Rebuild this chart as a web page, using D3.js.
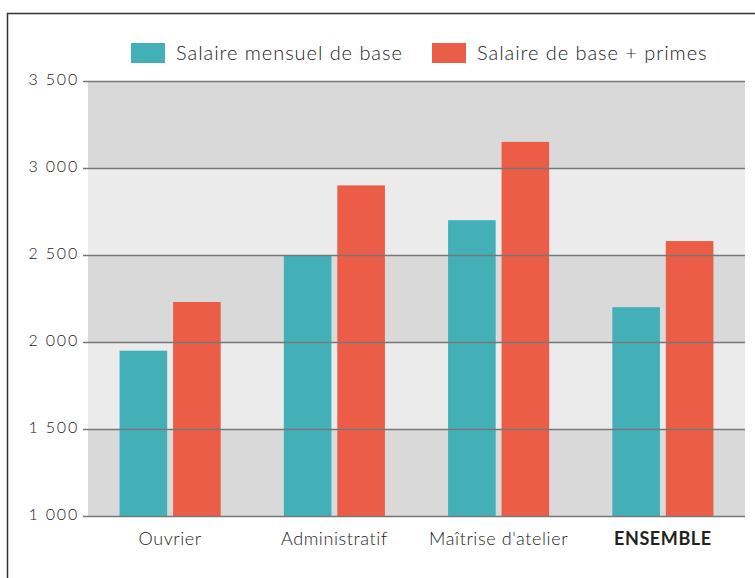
<!DOCTYPE html>
<html lang="fr">
<head>
<meta charset="UTF-8">
<title>Salaires</title>
<script src="https://d3js.org/d3.v7.min.js"></script>
<style>
    body { margin: 0; background: #fff; }
    svg { display: block; font-family: Lato, "Open Sans", sans-serif; font-weight: 300; }
    .tick text { fill: #222; }
</style>
</head>
<body>
<svg id="chart" width="755" height="578"></svg>
<script>
    const categories = ["Ouvrier", "Administratif", "Maîtrise d'atelier", "ENSEMBLE"]
    const seriesNames = ["Salaire mensuel de base", "Salaire de base + primes"]
    const baseSalary = [1950, 2500, 2700, 2200]
    const bonusSalary = [2230, 2900, 3150, 2580]
    const yTicks = [1000, 1500, 2000, 2500, 3000, 3500]
    const colors = ["#43b0b8", "#ec5d48"]

    const svg = d3.select("#chart")
    const plotLeft = 88, plotRight = 745, plotTop = 81, plotBottom = 516

    // frame
    svg.append("path")
        .attr("d", `M7.5,578 V13.5 H755`)
        .attr("fill", "none").attr("stroke", "#333").attr("stroke-width", 1.5)

    const x0 = d3.scaleBand().domain(categories).range([plotLeft, plotRight]).paddingInner(0).paddingOuter(0)
    const x1 = d3.scaleBand().domain(seriesNames).range([0, x0.bandwidth()]).paddingInner(0.11).paddingOuter(0.59)
    const y = d3.scaleLinear().domain([1000, 3500]).range([plotBottom, plotTop])

    // background bands
    svg.append("g").selectAll("rect")
        .data(yTicks.slice(0, -1))
        .enter().append("rect")
        .attr("x", plotLeft).attr("width", plotRight - plotLeft)
        .attr("y", d => y(d + 500)).attr("height", d => y(d) - y(d + 500))
        .attr("fill", (d, i) => i % 2 === 0 ? "#d9d9d9" : "#ebebeb")

    // bars
    const rows = categories.map((c, i) => ({cat: c, vals: [baseSalary[i], bonusSalary[i]]}))
    svg.append("g").selectAll("g")
        .data(rows)
        .enter().append("g")
        .attr("transform", d => `translate(${x0(d.cat)},0)`)
        .selectAll("rect")
        .data(d => d.vals.map((v, j) => ({s: seriesNames[j], v: v, c: colors[j]})))
        .enter().append("rect")
        .attr("x", d => x1(d.s)).attr("width", x1.bandwidth())
        .attr("y", d => y(d.v)).attr("height", d => plotBottom - y(d.v))
        .attr("fill", d => d.c)

    // gridlines + y axis
    const yAxis = d3.axisLeft(y).tickValues(yTicks).tickSize(-(plotRight - plotLeft))
        .tickFormat(d => d3.format(",")(d).replace(",", " "))
    const gy = svg.append("g").attr("transform", `translate(${plotLeft},0)`).call(yAxis)
        .attr("font-family", null).attr("font-size", null)
    gy.select(".domain").remove()
    gy.selectAll(".tick line").attr("stroke", "#777").attr("stroke-width", 1.5).attr("x1", -5)
    gy.selectAll(".tick text").attr("font-size", 16).attr("letter-spacing", 1.8)
        .attr("x", -9).attr("dy", "0.2em")

    // x labels
    const gx = svg.append("g").attr("transform", `translate(0,${plotBottom})`)
        .call(d3.axisBottom(x0).tickSize(0).tickPadding(16))
        .attr("font-family", null).attr("font-size", null)
    gx.select(".domain").remove()
    gx.selectAll(".tick text").attr("font-size", 18).attr("letter-spacing", 0.6)
        .attr("fill", d => d === "ENSEMBLE" ? "#111" : "#222")
        .attr("font-weight", d => d === "ENSEMBLE" ? "bold" : "300")

    // legend
    const legendX = [131, 432]
    seriesNames.forEach(function (name, i) {
        const g = svg.append("g").attr("transform", `translate(${legendX[i]},43)`)
        g.append("rect").attr("width", 34).attr("height", 20).attr("fill", colors[i])
        g.append("text").attr("x", 45).attr("y", 17).attr("font-size", 20)
            .attr("letter-spacing", 0.95).attr("fill", "#222").text(name)
    })
</script>
</body>
</html>
